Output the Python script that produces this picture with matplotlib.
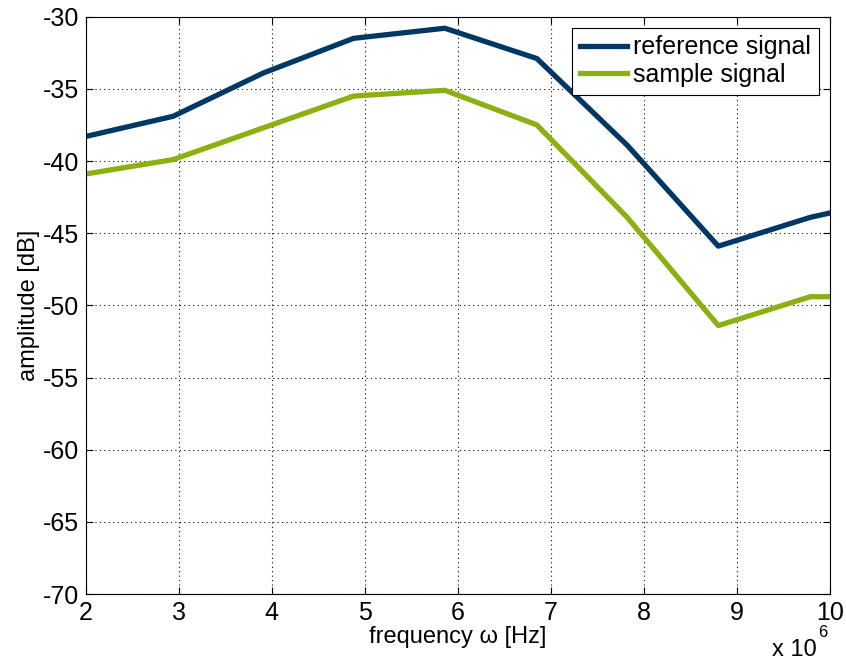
import matplotlib.pyplot as plt

# frequency in units of 1e6 Hz
freq = [2.0, 2.94, 3.91, 4.88, 5.86, 6.85, 7.82, 8.80, 9.79, 10.0]
reference_db = [-38.3, -36.9, -33.9, -31.5, -30.8, -32.9, -38.9, -45.9, -43.9, -43.6]
sample_db = [-40.9, -39.9, -37.7, -35.5, -35.1, -37.5, -43.9, -51.4, -49.4, -49.4]

x_ticks = [2, 3, 4, 5, 6, 7, 8, 9, 10]
y_ticks = [-70, -65, -60, -55, -50, -45, -40, -35, -30]

plt.rcParams['font.family'] = ['Liberation Sans', 'DejaVu Sans']
plt.rcParams['axes.unicode_minus'] = False

fig = plt.figure(figsize=(8.46, 6.62), dpi=100)
ax = fig.add_axes([0.1013, 0.1027, 0.8797, 0.8721])

ax.plot(freq, reference_db, color='#003865', lw=3.8, label='reference signal')
ax.plot(freq, sample_db, color='#8cb00f', lw=3.8, label='sample signal')

ax.set_xlim(2, 10)
ax.set_ylim(-70, -30)
ax.set_xticks(x_ticks)
ax.set_yticks(y_ticks)
ax.tick_params(direction='in', top=True, right=True, labelsize=18, length=5, pad=5)
ax.grid(True, color='black', linestyle=(0, (1, 3)), lw=0.8)
for s in ax.spines.values():
    s.set_linewidth(0.8)

ax.set_xlabel('frequency ω [Hz]', fontsize=17, labelpad=1)
ax.set_ylabel('amplitude [dB]', fontsize=17, labelpad=2)
# axis multiplier below the x tick labels
fig.text(0.966, 0.002, 'x 10', ha='right', va='bottom', fontsize=17)
fig.text(0.978, 0.044, '6', ha='right', va='center', fontsize=12)

leg = ax.legend(loc='upper right', fontsize=18, fancybox=False, framealpha=1,
                edgecolor='black', handlelength=1.9, borderaxespad=0.45,
                handletextpad=0.25, labelspacing=0.15, borderpad=0.3)
leg.get_frame().set_linewidth(0.8)

fig.savefig('out.png', dpi=100)
